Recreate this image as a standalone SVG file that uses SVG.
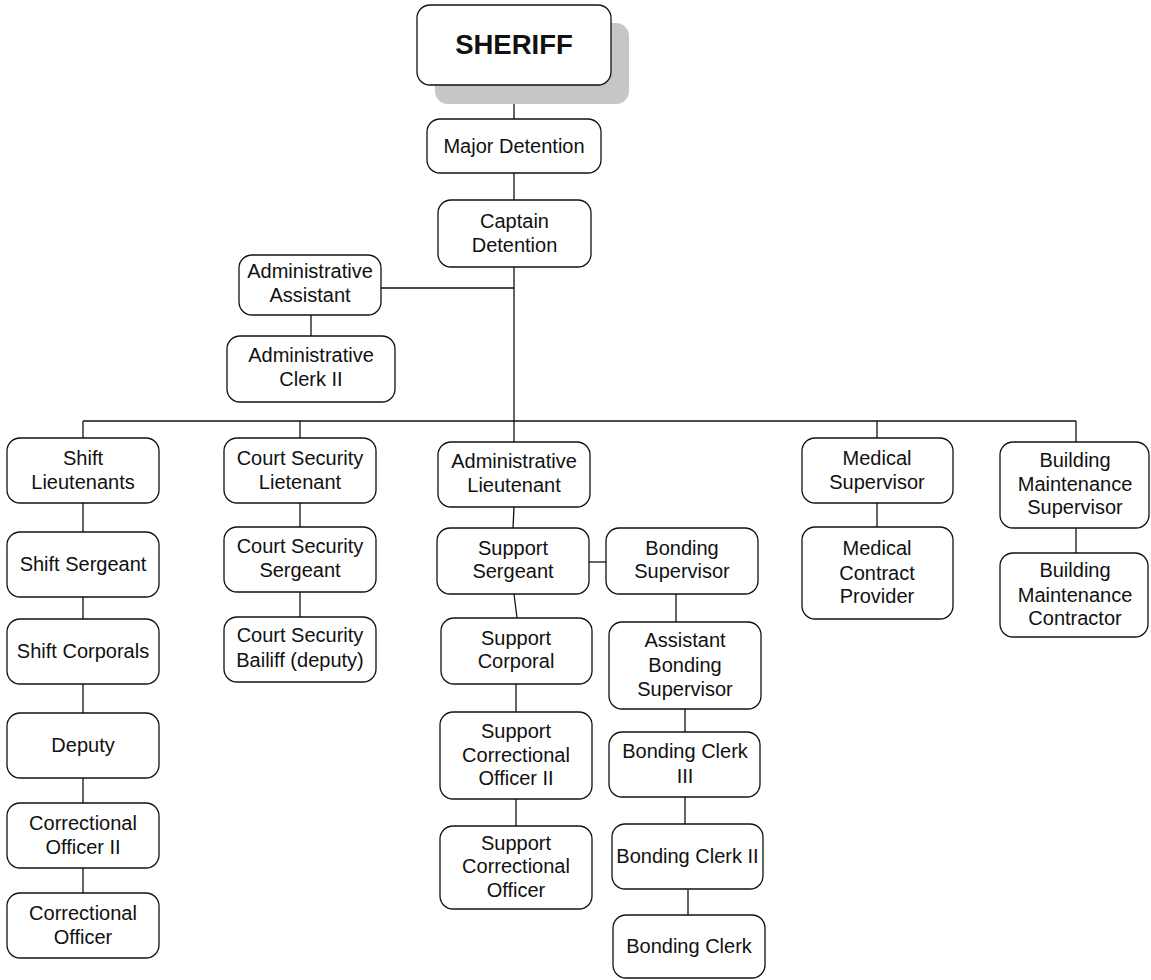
<svg xmlns="http://www.w3.org/2000/svg" width="1151" height="980" viewBox="0 0 1151 980">
<style>
.box{fill:#fff;stroke:#111;stroke-width:1.3}
.t{font-family:"Liberation Sans",Arial,sans-serif;font-size:20px;fill:#111;text-anchor:middle}
.b{font-weight:bold;font-size:27.5px}
.c line{stroke:#111;stroke-width:1.3}
</style>
<rect width="1151" height="980" fill="#fff"/>
<g id="connectors" class="c">
<line x1="514" y1="85" x2="514" y2="119"/>
<line x1="514" y1="173" x2="514" y2="200"/>
<line x1="514" y1="267" x2="514" y2="442"/>
<line x1="381" y1="288" x2="514" y2="288"/>
<line x1="311" y1="315" x2="311" y2="336"/>
<line x1="83" y1="421" x2="1076" y2="421"/>
<line x1="83" y1="421" x2="83" y2="438"/>
<line x1="83" y1="503" x2="83" y2="532"/>
<line x1="83" y1="597" x2="83" y2="619"/>
<line x1="83" y1="684" x2="83" y2="713"/>
<line x1="83" y1="778" x2="83" y2="803"/>
<line x1="83" y1="868" x2="83" y2="893"/>
<line x1="300" y1="421" x2="300" y2="438"/>
<line x1="300" y1="503" x2="300" y2="527"/>
<line x1="300" y1="592" x2="300" y2="617"/>
<line x1="514" y1="507" x2="513" y2="528"/>
<line x1="589" y1="562" x2="606" y2="562"/>
<line x1="514" y1="594" x2="517" y2="618"/>
<line x1="676" y1="594" x2="676" y2="622"/>
<line x1="516" y1="684" x2="516" y2="712"/>
<line x1="516" y1="799" x2="516" y2="826"/>
<line x1="685" y1="709" x2="685" y2="732"/>
<line x1="685" y1="797" x2="685" y2="824"/>
<line x1="688" y1="889" x2="688" y2="915"/>
<line x1="877" y1="421" x2="877" y2="438"/>
<line x1="877" y1="503" x2="877" y2="527"/>
<line x1="1076" y1="421" x2="1076" y2="442"/>
<line x1="1076" y1="528" x2="1076" y2="553"/>
</g>
<g id="sheriff">
<rect x="435" y="23" width="194" height="81" rx="13" fill="#c6c6c6"/>
<rect class="box" x="417" y="5" width="194" height="80" rx="13"/>
<text class="t b" x="514" y="54">SHERIFF</text>
</g>
<g id="major"><rect class="box" x="427" y="119" width="174" height="54" rx="13"/><text class="t" x="514" y="153">Major Detention</text></g>
<g id="captain"><rect class="box" x="438" y="200" width="153" height="67" rx="13"/><text class="t" x="514.5" y="228">Captain</text><text class="t" x="514.5" y="252">Detention</text></g>
<g id="adminAssistant"><rect class="box" x="239" y="255" width="142" height="60" rx="13"/><text class="t" x="310" y="278">Administrative</text><text class="t" x="310" y="302">Assistant</text></g>
<g id="adminClerk"><rect class="box" x="227" y="336" width="168" height="66" rx="13"/><text class="t" x="311" y="362">Administrative</text><text class="t" x="311" y="386">Clerk II</text></g>
<g id="shiftLt"><rect class="box" x="7" y="438" width="152" height="65" rx="13"/><text class="t" x="83" y="465">Shift</text><text class="t" x="83" y="489">Lieutenants</text></g>
<g id="shiftSgt"><rect class="box" x="7" y="532" width="152" height="65" rx="13"/><text class="t" x="83" y="571">Shift Sergeant</text></g>
<g id="shiftCpl"><rect class="box" x="7" y="619" width="152" height="65" rx="13"/><text class="t" x="83" y="658">Shift Corporals</text></g>
<g id="deputy"><rect class="box" x="7" y="713" width="152" height="65" rx="13"/><text class="t" x="83" y="752">Deputy</text></g>
<g id="co2"><rect class="box" x="7" y="803" width="152" height="65" rx="13"/><text class="t" x="83" y="830">Correctional</text><text class="t" x="83" y="854">Officer II</text></g>
<g id="co"><rect class="box" x="7" y="893" width="152" height="65" rx="13"/><text class="t" x="83" y="920">Correctional</text><text class="t" x="83" y="944">Officer</text></g>
<g id="courtLt"><rect class="box" x="224" y="438" width="152" height="65" rx="13"/><text class="t" x="300" y="465">Court Security</text><text class="t" x="300" y="489">Lietenant</text></g>
<g id="courtSgt"><rect class="box" x="224" y="527" width="152" height="65" rx="13"/><text class="t" x="300" y="553">Court Security</text><text class="t" x="300" y="577">Sergeant</text></g>
<g id="courtBailiff"><rect class="box" x="224" y="617" width="152" height="65" rx="13"/><text class="t" x="300" y="642">Court Security</text><text class="t" x="300" y="667">Bailiff (deputy)</text></g>
<g id="adminLt"><rect class="box" x="438" y="442" width="152" height="65" rx="13"/><text class="t" x="514" y="468">Administrative</text><text class="t" x="514" y="492">Lieutenant</text></g>
<g id="supportSgt"><rect class="box" x="437" y="528" width="152" height="66" rx="13"/><text class="t" x="513" y="555">Support</text><text class="t" x="513" y="578">Sergeant</text></g>
<g id="bondingSup"><rect class="box" x="606" y="528" width="152" height="66" rx="13"/><text class="t" x="682" y="555">Bonding</text><text class="t" x="682" y="578">Supervisor</text></g>
<g id="supportCpl"><rect class="box" x="441" y="618" width="151" height="66" rx="13"/><text class="t" x="516" y="645">Support</text><text class="t" x="516" y="668">Corporal</text></g>
<g id="asstBondingSup"><rect class="box" x="609" y="622" width="152" height="87" rx="13"/><text class="t" x="685" y="647">Assistant</text><text class="t" x="685" y="672">Bonding</text><text class="t" x="685" y="696">Supervisor</text></g>
<g id="supportCO2"><rect class="box" x="440" y="712" width="152" height="87" rx="13"/><text class="t" x="516" y="738">Support</text><text class="t" x="516" y="762">Correctional</text><text class="t" x="516" y="785">Officer II</text></g>
<g id="supportCO"><rect class="box" x="440" y="826" width="152" height="83" rx="13"/><text class="t" x="516" y="850">Support</text><text class="t" x="516" y="873">Correctional</text><text class="t" x="516" y="897">Officer</text></g>
<g id="bondingClerk3"><rect class="box" x="609" y="732" width="151" height="65" rx="13"/><text class="t" x="685" y="758">Bonding Clerk</text><text class="t" x="685" y="783">III</text></g>
<g id="bondingClerk2"><rect class="box" x="612" y="824" width="151" height="65" rx="13"/><text class="t" x="687.5" y="863">Bonding Clerk II</text></g>
<g id="bondingClerk"><rect class="box" x="613" y="915" width="152" height="63" rx="13"/><text class="t" x="689" y="953">Bonding Clerk</text></g>
<g id="medicalSup"><rect class="box" x="802" y="438" width="151" height="65" rx="13"/><text class="t" x="877" y="465">Medical</text><text class="t" x="877" y="489">Supervisor</text></g>
<g id="medicalContract"><rect class="box" x="802" y="527" width="151" height="92" rx="13"/><text class="t" x="877" y="555">Medical</text><text class="t" x="877" y="580">Contract</text><text class="t" x="877" y="603">Provider</text></g>
<g id="bldgSup"><rect class="box" x="1000" y="442" width="149" height="86" rx="13"/><text class="t" x="1075" y="467">Building</text><text class="t" x="1075" y="491">Maintenance</text><text class="t" x="1075" y="514">Supervisor</text></g>
<g id="bldgContractor"><rect class="box" x="1000" y="553" width="148" height="84" rx="13"/><text class="t" x="1075" y="577">Building</text><text class="t" x="1075" y="602">Maintenance</text><text class="t" x="1075" y="625">Contractor</text></g>
</svg>
